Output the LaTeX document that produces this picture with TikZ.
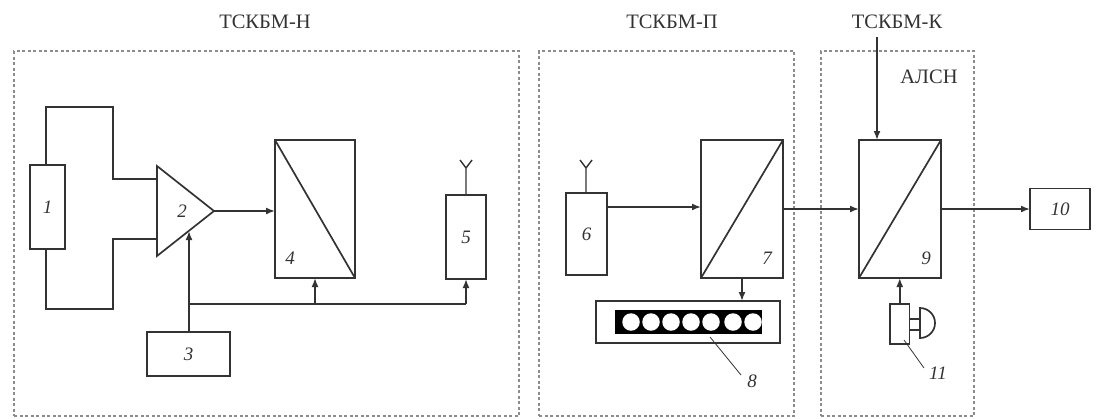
\documentclass[tikz,border=0pt]{standalone}
\usepackage{fontspec}
\setmainfont{Liberation Serif}
\usetikzlibrary{arrows.meta,calc}
\definecolor{ink}{gray}{0.2}
\definecolor{dashgray}{gray}{0.55}
\tikzset{
  line/.style={draw=ink,line width=1.7pt},
  conn/.style={line,-{Latex[length=9pt,width=7pt]}},
  blk/.style={rectangle,draw=ink,line width=1.7pt,inner sep=0pt,outer sep=0pt,font=\fontsize{19}{19}\selectfont\itshape,text=ink},
  zone/.style={rectangle,draw=dashgray,line width=1.6pt,dash pattern=on 3pt off 2.5pt,inner sep=0pt},
  ttl/.style={font=\fontsize{20.5}{20.5}\selectfont,text=ink,inner sep=0pt},
  num/.style={font=\fontsize{19}{19}\selectfont\itshape,text=ink,inner sep=0pt},
  leader/.style={draw=ink,line width=0.8pt},
  lamp/.style={circle,fill=white,draw=none,minimum size=17.5pt,inner sep=0pt},
}
\begin{document}
\begin{tikzpicture}[x=1pt,y=-1pt]
\useasboundingbox (0,0) rectangle (1105,418);
% zones
\node[zone,minimum width=505pt,minimum height=365pt] (zH) at (266.5,233.5) {};
\node[zone,minimum width=255pt,minimum height=365pt] (zP) at (666.5,233.5) {};
\node[zone,minimum width=153pt,minimum height=365pt] (zK) at (897.5,233.5) {};
% titles
\node[ttl] (tH) at (265,22) {ТСКБМ-Н};
\node[ttl] (tP) at (672,22) {ТСКБМ-П};
\node[ttl] (tK) at (897,22) {ТСКБМ-К};
\node[ttl] (tA) at (929,77) {АЛСН};
% blocks
\node[blk,minimum width=35pt,minimum height=84pt] (b1) at (47.5,207) {1};
\node[blk,minimum width=83pt,minimum height=44pt] (b3) at (188.5,354) {3};
\node[blk,minimum width=80pt,minimum height=138pt] (b4) at (315,209) {};
\node[blk,minimum width=40pt,minimum height=84pt] (b5) at (466,237) {5};
\node[blk,minimum width=41pt,minimum height=82pt] (b6) at (586.5,234) {6};
\node[blk,minimum width=82pt,minimum height=138pt] (b7) at (742,209) {};
\node[blk,minimum width=184pt,minimum height=42pt] (b8) at (688,322) {};
\node[blk,minimum width=82pt,minimum height=138pt] (b9) at (900,209) {};
\node[blk,minimum width=60pt,minimum height=41pt] (b10) at (1060,209) {10};
\node[blk,minimum width=19.5pt,minimum height=40pt] (b11) at (899.75,324) {};
% amplifier
\coordinate (t1) at (157,166);
\coordinate (t2) at (157,256);
\coordinate (t3) at (214,211);
\draw[line,line join=miter] (t1) -- (t3) -- (t2) -- cycle;
\node[num] (n2) at (182,211) {2};
% diagonals
\draw[line] (b4.north west) -- (b4.south east);
\draw[line] (b7.south west) -- (b7.north east);
\draw[line] (b9.south west) -- (b9.north east);
\node[num] (n4) at (290,258) {4};
\node[num] (n7) at (767,258) {7};
\node[num] (n9) at (926,258) {9};
% differential input loop
\coordinate (lt1) at (46,107);
\coordinate (lt2) at (113,107);
\coordinate (lt3) at (113,179);
\coordinate (li1) at (157,179);
\coordinate (lb1) at (46,309);
\coordinate (lb2) at (113,309);
\coordinate (lb3) at (113,239);
\coordinate (li2) at (157,239);
\draw[line] (46,165) -- (lt1) -- (lt2) -- (lt3) -- (li1);
\draw[line] (46,249) -- (lb1) -- (lb2) -- (lb3) -- (li2);
% connectors
\draw[conn] (t3) -- (b4.west |- t3);
\coordinate (amp) at (189,231);
\coordinate (j1) at (189,304);
\draw[conn] (b3.north -| amp) -- (amp);
\draw[line] (j1) -- (466,304);
\draw[conn] (315,304) -- (b4.south);
\draw[conn] (466,304) -- (b5.south);
\draw[conn] (b6.east |- 0,207) -- (b7.west |- 0,207);
\draw[conn] (b7.east) -- (b9.west);
\draw[conn] (b9.east) -- (b10.west);
\draw[conn] (b7.south) -- (b8.north -| b7.south);
\draw[conn] (877,37) -- (877,140);
\draw[conn] (b11.north) -- (b11.north |- b9.south);
% antennas
\coordinate (a5) at (466,168);
\draw[line,line width=1.4pt] (b5.north) -- (a5) (460,160) -- (a5) -- (472,160);
\coordinate (a6) at (586,168);
\draw[line,line width=1.4pt] (b6.north -| a6) -- (a6) (580,160) -- (a6) -- (592,160);
% indicator
\node[rectangle,fill=black,minimum width=147pt,minimum height=24pt,inner sep=0pt] (disp) at (688.5,322) {};
\foreach \i/\x in {1/631,2/651,3/671,4/691,5/711,6/733,7/753}{
  \node[lamp] (lamp\i) at (\x,322) {};
}
% speaker
\draw[line] (909.5,319) rectangle (920,330);
\draw[line] (920,308) arc[start angle=90,end angle=-90,radius=15pt] -- cycle;
% leaders
\coordinate (l8) at (710,337);
\coordinate (l8e) at (741,375);
\draw[leader] (l8) -- (l8e);
\node[num] (n8) at (752,381) {8};
\coordinate (l11) at (904,340);
\coordinate (l11e) at (924,368);
\draw[leader] (l11) -- (l11e);
\node[num] (n11) at (938,373) {11};
\end{tikzpicture}
\end{document}
